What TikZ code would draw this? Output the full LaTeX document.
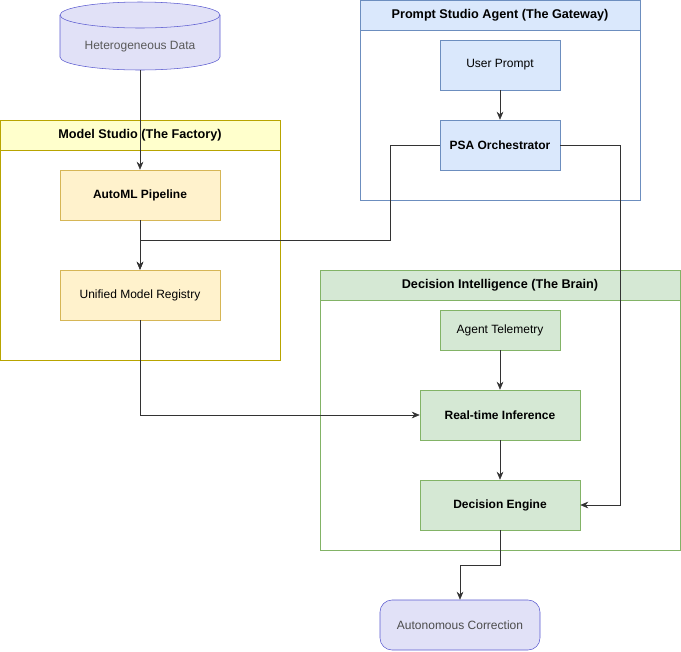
\documentclass[tikz,border=0pt]{standalone}
\usepackage{fontspec}
\setmainfont{Liberation Sans}
\usetikzlibrary{shapes.geometric,arrows.meta}
\definecolor{lavf}{HTML}{E1E1F7}\definecolor{lavd}{HTML}{5A5AD0}
\definecolor{yelf}{HTML}{FFF2CC}\definecolor{yeld}{HTML}{D6B656}
\definecolor{yhf}{HTML}{FFFFCC}\definecolor{yhd}{HTML}{B8A400}
\definecolor{bluf}{HTML}{DAE8FC}\definecolor{blud}{HTML}{6C8EBF}
\definecolor{grnf}{HTML}{D5E8D4}\definecolor{grnd}{HTML}{82B366}
\begin{document}
\begin{tikzpicture}[x=0.75pt,y=-0.75pt,font=\fontsize{9}{11}\selectfont,
 box/.style={draw=#1d,fill=#1f,minimum width=120pt,minimum height=37.5pt,inner sep=0pt},
 arr/.style={draw=black!80,-{Stealth[length=6pt,width=5pt]}},
 hdr/.style={font=\fontsize{9.5}{11}\selectfont\bfseries}]
\useasboundingbox (0,0) rectangle (681,651);
% containers
\draw[yhd,fill=white] (0.5,120) rectangle (280,360);
\draw[yhd,fill=yhf] (0.5,120) rectangle (280,150);
\node[hdr] (ms) at (140,135) {Model Studio (The Factory)};
\draw[blud,fill=white] (360,0.5) rectangle (640,200);
\draw[blud,fill=bluf] (360,0.5) rectangle (640,30);
\node[hdr] (psa) at (500,15.5) {Prompt Studio Agent (The Gateway)};
\draw[grnd,fill=white] (320,270) rectangle (680,550);
\draw[grnd,fill=grnf] (320,270) rectangle (680,300);
\node[hdr] (di) at (500,285) {Decision Intelligence (The Brain)};
% cylinder
\draw[lavd,fill=lavf] (60,15) -- (60,57) arc[start angle=180,end angle=360,x radius=80,y radius=-13] -- (220,15) arc[start angle=0,end angle=180,x radius=80,y radius=-13] -- cycle;
\draw[lavd] (60,15) arc[start angle=180,end angle=360,x radius=80,y radius=-13];
\node[text=black!65,minimum width=120pt,minimum height=51pt,inner sep=0pt] (data) at (140,36) {};
\node[text=black!65] (datat) at (140,47) {Heterogeneous Data};
\coordinate (datab) at (140,70);
% nodes
\node[box=yel,font=\fontsize{9}{11}\selectfont\bfseries] (auto) at (140,195) {AutoML Pipeline};
\node[box=yel] (reg) at (140,295) {Unified Model Registry};
\node[box=blu,minimum width=90pt] (up) at (500,65) {User Prompt};
\node[box=blu,minimum width=90pt,font=\fontsize{9}{11}\selectfont\bfseries] (orc) at (500,145) {PSA Orchestrator};
\node[box=grn,minimum width=90pt,minimum height=30pt] (tel) at (500,330) {Agent Telemetry};
\node[box=grn,font=\fontsize{9}{11}\selectfont\bfseries] (inf) at (500,415) {Real-time Inference};
\node[box=grn,font=\fontsize{9}{11}\selectfont\bfseries] (eng) at (500,505) {Decision Engine};
\node[box=lav,rounded corners=9pt,text=black!70] (cor) at (460,625) {Autonomous Correction};
% edges
\draw[arr] (datab) -- (auto);
\draw[arr] (auto) -- (reg);
\draw[arr] (orc.west) -- (390,145) -- (390,240) -- (140,240) -- (reg.north);
\draw[arr] (up) -- (orc);
\draw[arr] (orc.east) -- (620,145) -- (620,505) -- (eng.east);
\draw[arr] (reg.south) |- (inf.west);
\draw[arr] (tel) -- (inf);
\draw[arr] (inf) -- (eng);
\draw[arr] (eng.south) -- (500,565) -- (460,565) -- (cor.north);
\end{tikzpicture}
\end{document}
